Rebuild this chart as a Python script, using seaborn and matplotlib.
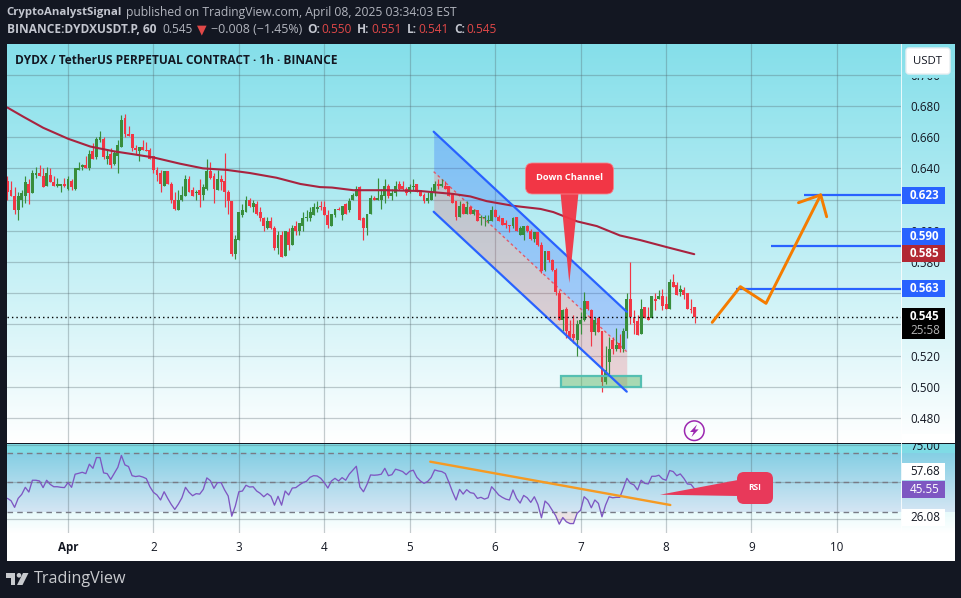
"""Gráfico DYDX/USDT 1h com canal de baixa e RSI."""

import numpy as np
import pandas as pd
import matplotlib
matplotlib.use("Agg")
import matplotlib.pyplot as plt
import seaborn as sns
from matplotlib.colors import LinearSegmentedColormap
from matplotlib.patches import Circle, FancyBboxPatch, Polygon, Rectangle

opens = [
    .632, .626, .622, .613, .620, .622, .630, .624, .636, .637, .635, .629, .636, .631, .629, .629,
    .630, .627, .632, .627, .639, .641, .642, .640, .651, .647, .658, .659, .646, .649, .643, .648,
    .654, .672, .662, .662, .653, .651, .654, .652, .652, .648, .639, .637, .629, .638, .630, .620,
    .613, .620, .622, .633, .626, .624, .626, .623, .627, .638, .635, .626, .633, .632, .625, .619,
    .585, .594, .610, .612, .620, .615, .617, .612, .608, .602, .606, .602, .589, .597, .584, .599,
    .591, .603, .600, .603, .608, .608, .610, .614,
    .616, .615, .610, .603, .610, .614, .610, .617, .613, .620, .622, .628, .608, .602, .611, .621,
    .620, .620, .622, .629, .622, .624, .630, .629, .627, .625, .628, .630, .626, .623, .619, .620,
    .624, .630, .629, .629, .629, .624, .619, .609, .617, .611, .615, .611, .613, .608, .608, .606,
    .606, .613, .609, .608, .605, .604, .603, .609, .597, .597, .603, .600, .595, .599, .591, .575,
    .587, .581, .575, .560, .543, .550, .536, .534, .530, .540, .543, .555, .549, .535, .544, .536,
    .503, .516, .530, .524, .528, .524, .536, .556, .545, .542, .534, .551, .545, .544, .556, .556,
    .558, .553, .550, .567, .565, .561, .562, .560, .550, .551,
]
highs = [
    .635, .632, .628, .625, .626, .635, .633, .639, .641, .642, .640, .641, .640, .635, .634, .630,
    .634, .635, .633, .640, .644, .643, .648, .652, .656, .660, .664, .660, .652, .653, .651, .658,
    .674, .675, .667, .662, .655, .654, .658, .657, .653, .648, .641, .639, .638, .638, .631, .625,
    .626, .629, .636, .635, .628, .626, .633, .630, .646, .644, .637, .639, .636, .650, .626, .619,
    .597, .612, .617, .622, .621, .620, .619, .615, .609, .609, .609, .603, .600, .600, .600, .602,
    .604, .606, .605, .612, .613, .615, .618, .619,
    .619, .619, .613, .611, .614, .615, .616, .618, .621, .624, .629, .629, .609, .611, .623, .622,
    .634, .627, .633, .630, .627, .632, .632, .632, .628, .630, .633, .630, .626, .624, .625, .628,
    .632, .633, .633, .632, .629, .624, .619, .619, .618, .619, .616, .614, .613, .610, .610, .610,
    .616, .614, .610, .608, .607, .604, .609, .609, .603, .603, .604, .601, .599, .599, .593, .587,
    .587, .582, .576, .562, .550, .551, .543, .546, .543, .548, .561, .555, .550, .545, .545, .536,
    .526, .532, .532, .538, .534, .538, .560, .580, .549, .546, .556, .551, .551, .558, .560, .562,
    .563, .558, .569, .572, .567, .565, .564, .560, .556, .551,
]
lows = [
    .620, .622, .611, .607, .615, .618, .617, .624, .634, .635, .628, .629, .631, .629, .628, .625,
    .628, .626, .626, .626, .639, .639, .640, .639, .646, .646, .657, .646, .643, .640, .642, .637,
    .654, .660, .661, .651, .649, .645, .652, .651, .646, .637, .632, .625, .629, .630, .618, .613,
    .613, .619, .622, .625, .622, .620, .615, .620, .626, .633, .618, .626, .626, .615, .611, .584,
    .582, .594, .609, .612, .615, .612, .610, .606, .600, .601, .601, .588, .585, .583, .584, .588,
    .591, .597, .597, .600, .606, .606, .610, .612,
    .613, .610, .602, .603, .609, .613, .607, .611, .612, .620, .622, .607, .594, .597, .611, .620,
    .620, .614, .618, .621, .620, .622, .626, .626, .623, .624, .626, .625, .622, .618, .618, .620,
    .622, .627, .628, .627, .622, .618, .607, .609, .611, .611, .611, .610, .606, .604, .603, .605,
    .606, .609, .606, .604, .602, .599, .602, .600, .597, .594, .599, .594, .593, .590, .573, .574,
    .580, .574, .559, .543, .536, .531, .530, .528, .520, .534, .542, .549, .526, .533, .535, .497,
    .502, .508, .521, .523, .522, .522, .531, .540, .534, .533, .534, .544, .543, .544, .549, .556,
    .549, .550, .550, .564, .559, .558, .556, .550, .547, .541,
]
closes = [
    .625, .622, .613, .622, .624, .631, .624, .637, .637, .635, .628, .637, .631, .629, .630, .630,
    .629, .633, .628, .640, .640, .642, .640, .649, .646, .659, .660, .647, .648, .642, .650, .655,
    .671, .662, .661, .653, .652, .654, .652, .651, .646, .639, .636, .630, .638, .630, .620, .614,
    .620, .623, .633, .625, .622, .625, .623, .628, .638, .634, .627, .633, .631, .625, .619, .585,
    .595, .612, .613, .620, .616, .618, .611, .608, .603, .606, .602, .589, .597, .583, .600, .591,
    .602, .600, .605, .608, .609, .612, .615, .615,
    .615, .610, .604, .611, .614, .613, .616, .611, .619, .623, .627, .607, .602, .611, .621, .620,
    .621, .623, .629, .622, .624, .629, .627, .627, .624, .628, .629, .625, .622, .619, .621, .624,
    .630, .629, .630, .627, .622, .618, .609, .616, .611, .615, .611, .613, .606, .609, .609, .607,
    .613, .609, .606, .604, .604, .603, .608, .600, .602, .603, .600, .595, .599, .591, .574, .587,
    .581, .575, .561, .543, .549, .536, .532, .531, .540, .543, .555, .550, .535, .543, .535, .503,
    .511, .524, .524, .527, .524, .536, .556, .545, .541, .533, .550, .544, .543, .558, .555, .558,
    .552, .550, .567, .564, .559, .563, .559, .550, .549, .545,
]
rsi_values = [
    39.1, 37.5, 33.0, 39.1, 41.8, 46.6, 43.4, 51.4, 51.4, 50.9, 46.4, 51.4, 48.6, 47.0, 47.0, 46.6,
    46.4, 49.8, 46.6, 55.5, 56.1, 56.8, 55.9, 62.3, 59.5, 66.8, 66.8, 56.4, 55.9, 52.0, 56.1, 60.2,
    68.2, 61.8, 60.7, 54.5, 53.9, 54.3, 53.6, 52.5, 47.0, 43.2, 41.4, 38.0, 43.6, 39.1, 35.0, 31.6,
    35.2, 39.5, 46.6, 43.2, 40.9, 42.3, 42.0, 45.2, 53.0, 51.1, 45.9, 49.8, 49.8, 44.8, 40.7, 27.0,
    33.9, 43.6, 44.1, 48.0, 46.8, 47.0, 44.1, 42.5, 40.2, 42.3, 40.5, 34.5, 40.5, 34.5, 44.1, 41.4,
    46.1, 46.4, 48.2, 49.8, 50.7, 53.4, 54.5, 54.3, 52.7, 49.8, 46.1,
    50.9, 52.7, 50.9, 53.2, 51.4, 55.5, 58.2, 60.9, 46.8, 43.6, 48.6, 55.0, 54.8, 55.0, 55.5, 59.5,
    54.5, 55.2, 58.9, 58.2, 57.3, 55.2, 57.5, 58.2, 53.4, 50.9, 49.3, 50.5, 53.2, 58.4, 57.7, 57.3,
    55.9, 50.0, 43.6, 38.0, 45.2, 42.0, 45.0, 43.0, 42.5, 39.1,
    39.8, 38.6, 39.5, 47.0, 44.3, 41.4, 39.8, 38.6, 38.0, 44.8, 39.1, 35.9, 41.1, 39.5, 36.4, 40.2,
    35.0, 25.9, 37.3, 35.0, 31.1, 27.3, 21.6, 26.1, 23.2, 22.0, 22.0, 28.9, 31.1, 40.2, 38.0, 32.7,
    38.0, 35.7, 26.6, 34.5, 40.2, 39.5, 39.8, 39.8, 45.9, 52.7, 49.3, 48.2, 44.8, 51.4, 49.3, 48.9,
    54.1, 54.1, 54.8, 52.3, 51.4, 58.0, 57.3, 54.5, 55.7, 52.7, 48.9, 48.6, 45.55,
]
ma_days = [
    0.29, 0.48, 0.71, 1.00, 1.26, 1.53, 1.77, 2.00, 2.31, 2.58, 2.86, 3.13, 3.44, 3.72, 3.95,
    4.09, 4.34, 4.73, 5.12, 5.51, 5.71, 5.90, 6.21, 6.53, 6.68, 6.96, 7.19, 7.46, 7.70, 8.01, 8.33,
]
ma_values = [
    .679, .673, .666, .659, .654, .651, .649, .647, .643, .640, .639, .637, .634, .630, .628,
    .6277, .626, .626, .6255, .6236, .622, .619, .616, .614, .612, .606, .603, .597, .594, .5895, .585,
]
day_ticks = [1, 2, 3, 4, 5, 6, 7, 8, 9, 10]
day_labels = ["Apr", "2", "3", "4", "5", "6", "7", "8", "9", "10"]
price_ticks = [.48, .50, .52, .54, .56, .58, .60, .62, .64, .66, .68, .70]
# 0.540, 0.560 e 0.620 ficam atrás das etiquetas de preço
price_labels = ["0.480", "0.500", "0.520", "", "", "0.580", "0.600", "", "0.640", "0.660", "0.680", "0.700"]
rsi_ticks = [25, 50, 75]
rsi_labels = ["", "", "75.00"]
rsi_bands = [70, 50, 30]

channel_days = [5.28, 7.54]
channel_top = [.6635, .5481]
channel_mid = [.6379, .5225]
channel_low = [.6122, .4969]
target_prices = [.623, .590, .563]
target_starts = [9.62, 9.23, 8.82]
path_days = [8.54, 8.87, 9.17, 9.81]
path_prices = [.5413, .5642, .5535, .623]
head_days = [9.55, 9.81, 9.88]
head_prices = [.618, .623, .609]
trend_days = [5.24, 8.05]
trend_rsi = [64.0, 34.6]
zone_days = [6.77, 7.71]
zone_prices = [.500, .5071]
last_price = .545

BLUE = "#2962ff"
RED = "#f23645"
GREEN = "#388e3c"
ORANGE = "#f57c00"
DARK = "#131722"
GRID = "#4f6168"

sns.set_theme(style="white")
plt.rcParams["font.family"] = ["Open Sans", "DejaVu Sans"]

W, H = 962, 598
fig = plt.figure(figsize=(W / 100, H / 100), dpi=100, facecolor=DARK)


def pane(x0, y0, x1, y1, zorder):
    """Eixo posicionado em pixels da imagem (origem no topo)."""
    ax = fig.add_axes([x0 / W, 1 - y1 / H, (x1 - x0) / W, (y1 - y0) / H], zorder=zorder)
    ax.patch.set_alpha(0)
    for side in ax.spines.values():
        side.set_visible(False)
    return ax


# Fundo com degradês
back = pane(0, 0, W, H, 0)
back.set_xlim(0, W)
back.set_ylim(H, 0)
back.axis("off")


def gradient(ax, x0, x1, y0, y1, stops):
    cmap = LinearSegmentedColormap.from_list("g", stops)
    ax.imshow(np.linspace(0, 1, 256)[:, None], cmap=cmap, aspect="auto",
              extent=(x0, x1, y1, y0), interpolation="bilinear")


gradient(back, 7, 955, 44, 443, ["#85dfea", "#bdeef4", "#ffffff"])
gradient(back, 7, 955, 444, 454, ["#7edde6", "#80dbe5"])
gradient(back, 7, 955, 453, 513, ["#85cfe4", "#d6e6f4"])
gradient(back, 7, 955, 512, 533, ["#e8fbfb", "#ffffff"])
back.add_patch(Rectangle((7, 533), 948, 28, color="white", lw=0))
back.set_xlim(0, W)
back.set_ylim(H, 0)

# Painel de preço
ax = pane(7, 44, 901, 443, 1)
days = 7 / 24 + np.arange(len(closes)) / 24
frame = pd.DataFrame({"day": days, "open": opens, "high": highs, "low": lows,
                      "close": closes, "rsi": rsi_values})
colors = np.where(frame["close"] >= frame["open"], GREEN, RED)

ax.fill_between(channel_days, channel_mid, channel_top, color=BLUE, alpha=0.28, lw=0, zorder=1)
ax.fill_between(channel_days, channel_low, channel_mid, color=RED, alpha=0.2, lw=0, zorder=1)
ax.vlines(frame["day"], frame["low"], frame["high"], colors=colors, lw=0.85, zorder=3)
ax.bar(frame["day"], (frame["close"] - frame["open"]).abs(),
       bottom=frame[["open", "close"]].min(axis=1), width=0.034, color=colors, lw=0, zorder=3)
sns.lineplot(x=ma_days, y=ma_values, ax=ax, color="#a8233f", lw=1.5, zorder=4, sort=False)
for line in (channel_top, channel_low):
    sns.lineplot(x=channel_days, y=line, ax=ax, color=BLUE, lw=1.6, zorder=5, sort=False)
ax.plot(channel_days, channel_mid, color=RED, lw=1, ls=(0, (2, 2)), alpha=0.75, zorder=2)
ax.axhline(last_price, color="black", lw=1, ls=(0, (1, 2.2)), zorder=5)
ax.add_patch(Rectangle((zone_days[0], zone_prices[0]), zone_days[1] - zone_days[0],
                       zone_prices[1] - zone_prices[0], facecolor="#4caf50", alpha=0.42,
                       edgecolor="none", zorder=4))
ax.add_patch(Rectangle((zone_days[0], zone_prices[0]), zone_days[1] - zone_days[0],
                       zone_prices[1] - zone_prices[0], fill=False, edgecolor="#55bfb2",
                       lw=1.6, zorder=4))
for price, start in zip(target_prices, target_starts):
    ax.hlines(price, start, 10.75, color=BLUE, lw=1.6, zorder=5)
sns.lineplot(x=path_days, y=path_prices, ax=ax, color=ORANGE, lw=2.1, zorder=6, sort=False)
sns.lineplot(x=head_days, y=head_prices, ax=ax, color=ORANGE, lw=2.1, zorder=6, sort=False)

ax.set_xlim(0.286, 10.75)
ax.set_ylim(.464, .7197)
ax.set_xticks(day_ticks)
ax.set_xticklabels([])
ax.set_yticks(price_ticks)
ax.set_yticklabels(price_labels)
ax.yaxis.tick_right()
ax.tick_params(length=0, labelsize=8.4, labelcolor=DARK, pad=6.5)
ax.grid(True, color=GRID, alpha=0.32, lw=0.9)
ax.set_axisbelow(True)
ax.set_xlabel("")
ax.set_ylabel("")

# Painel do RSI
rx = pane(7, 444, 901, 533, 1)
rx.fill_between(frame["day"], frame["rsi"], 30, where=frame["rsi"] < 30, interpolate=True,
                color=RED, alpha=0.12, lw=0, zorder=1)
for band in rsi_bands:
    rx.axhline(band, color="#787b86", lw=1, ls=(0, (4, 3)), zorder=2)
sns.lineplot(data=frame, x="day", y="rsi", ax=rx, color="#7e57c2", lw=0.95, zorder=3)
sns.lineplot(x=trend_days, y=trend_rsi, ax=rx, color="#f59a23", lw=1.7, zorder=4, sort=False)
rx.set_xlim(0.286, 10.75)
rx.set_ylim(15.6, 76)
rx.set_xticks(day_ticks)
rx.set_xticklabels(day_labels)
rx.get_xticklabels()[0].set_fontweight("bold")
rx.set_yticks(rsi_ticks)
rx.set_yticklabels(rsi_labels)
rx.yaxis.tick_right()
rx.tick_params(length=0, labelsize=8.4, labelcolor=DARK)
rx.tick_params(axis="y", pad=6.5)
rx.tick_params(axis="x", pad=5.5)
rx.grid(True, color=GRID, alpha=0.32, lw=0.9)
rx.set_axisbelow(True)
rx.set_xlabel("")
rx.set_ylabel("")

# Camada de cima: textos, etiquetas e balões em pixels da imagem
top = pane(0, 0, W, H, 3)
top.set_xlim(0, W)
top.set_ylim(H, 0)
top.axis("off")


def label(x, y, text, color="#b2b5be", size=8.6, weight="normal", ha="left", **kw):
    top.text(x, y, text, color=color, fontsize=size, fontweight=weight, ha=ha, va="center", **kw)


top.add_patch(Rectangle((902, 434), 53, 9.5, color="white", lw=0))
top.add_patch(Rectangle((7, 443), 948, 1.2, color=DARK, lw=0))
top.add_patch(Rectangle((901, 44), 1, 489, color="white", alpha=0.8, lw=0))

# Cabeçalho
label(6.7, 12.5, "CryptoAnalystSignal", weight="bold", color="#c3c6cf", size=8.2)
label(126.5, 12.5, "published on TradingView.com, April 08, 2025 03:34:03 EST", size=8.7)
label(6.7, 29.5, "BINANCE:DYDXUSDT.P, 60", weight="bold", color="#c3c6cf", size=8.55)
label(162, 29.5, "0.545")
label(197, 29.5, "▼", color="#e04848", size=9)
label(211.5, 29.5, "−0.008 (−1.45%)", size=8.9)
for x, name, xv, val in [(307, "O:", 321, "0.550"), (357, "H:", 371, "0.551"),
                         (407, "L:", 418, "0.541"), (454, "C:", 466, "0.545")]:
    label(x, 29.5, name, weight="bold", color="#c3c6cf")
    label(xv, 29.5, val, color="#e04848")
label(15, 60, "DYDX / TetherUS PERPETUAL CONTRACT · 1h · BINANCE", color=DARK, size=8.55, weight="bold")

# Botão da moeda e etiquetas do eixo
top.add_patch(Rectangle((902, 72), 53, 5.5, color="#8fe2ec", lw=0))
top.add_patch(FancyBboxPatch((906, 48), 44, 26, boxstyle="round,pad=0,rounding_size=3",
                             facecolor="white", edgecolor="#e8eef2", lw=1))
label(928, 61, "USDT", color=DARK, size=8.2, ha="center")
for y0, y1, color, text in [(187, 204, BLUE, "0.623"), (228, 245, BLUE, "0.590"),
                            (245, 262, "#b22833", "0.585"), (280, 297, BLUE, "0.563")]:
    top.add_patch(Rectangle((902, y0), 43, y1 - y0, color=color, lw=0))
    label(910, (y0 + y1) / 2, text, color="white", size=8.4, weight="bold")
top.add_patch(Rectangle((902, 308), 43, 31, color="black", lw=0))
label(910, 316.5, "0.545", color="white", size=8.4, weight="bold")
label(910, 331, "25:58", color="#b4b4b4", size=8.4)
for y0, y1, color, tc, text in [(463, 480, "white", DARK, "57.68"), (480.5, 498, "#7e57c2", "white", "45.55"),
                                (509, 526, "white", DARK, "26.08")]:
    top.add_patch(Rectangle((902, y0), 43, y1 - y0, color=color, lw=0))
    label(910, (y0 + y1) / 2, text, color=tc, size=8.4)

# Balões
top.add_patch(Polygon([(560.5, 193), (578.5, 193), (569.3, 283)], color=RED, alpha=0.95, lw=0))
top.add_patch(FancyBboxPatch((525.5, 163), 88, 31, boxstyle="round,pad=0,rounding_size=7",
                             facecolor=RED, edgecolor="#f7808a", lw=0.6))
label(569.5, 177.5, "Down Channel", color="white", size=6.7, weight="bold", ha="center")
top.add_patch(Polygon([(738, 480), (738, 496), (660, 494.7)], color="#e8395a", lw=0))
top.add_patch(FancyBboxPatch((737, 472), 36, 32, boxstyle="round,pad=0,rounding_size=7",
                             facecolor="#e8395a", edgecolor="none"))
label(755, 487.5, "RSI", color="white", size=6, weight="bold", ha="center")

# Ícone de evento
top.add_patch(Circle((694.3, 430.7), 9.8, fill=False, edgecolor="#9c27b0", lw=1.1))
top.add_patch(Polygon([(697, 424.5), (690, 432), (693.6, 432), (691.5, 437), (698.6, 429.4), (695, 429.4)],
                      color="#9c27b0", lw=0))

# Logo
top.add_patch(Polygon([(6, 573), (15.5, 573), (15.5, 585), (11, 585), (11, 577.5), (6, 577.5)], color="#c8cace", lw=0))
top.add_patch(Circle((19, 575.3), 2.3, color="#c8cace", lw=0))
top.add_patch(Polygon([(23, 573), (28.5, 573), (22.5, 585), (17, 585)], color="#c8cace", lw=0))
label(33.5, 579, "TradingView", color="#c8cace", size=11.6)

fig.savefig("out.png", dpi=100, facecolor=DARK)
plt.close("all")
